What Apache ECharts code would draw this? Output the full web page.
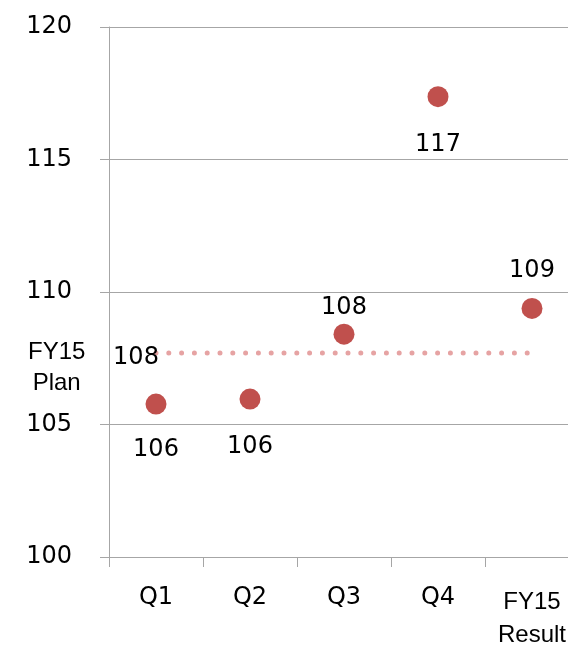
<!DOCTYPE html>
<html>
<head>
<meta charset="utf-8">
<script src="https://cdn.jsdelivr.net/npm/echarts@6/dist/echarts.min.js"></script>
<style>html,body{margin:0;padding:0;background:#fff}#c{width:568px;height:646px}</style>
</head>
<body>
<div id="c"></div>
<script>
const categories = ['Q1', 'Q2', 'Q3', 'Q4', 'FY15\nResult'];
const actualValues = [105.77, 105.96, 108.41, 117.37, 109.38];
const planValue = 107.7;
const planLabel = 'FY15\nPlan';
const yTicks = { min: 100, max: 120, interval: 5 };
// label vertical offsets (px) relative to each point
const labelOffsets = [46, 48, -26, 48, -38];

const chart = echarts.init(document.getElementById('c'), null, { renderer: 'canvas' });
const gray = '#a6a6a6';
const numFont = '"DejaVu Sans", Verdana, sans-serif';
const sansFont = '"Liberation Sans", Arial, sans-serif';

const option = {
  animation: false,
  backgroundColor: '#fff',
  grid: { left: 109, top: 27, width: 470, height: 530, containLabel: false, outerBoundsMode: 'none' },
  xAxis: {
    type: 'category',
    data: categories,
    boundaryGap: true,
    axisLine: { lineStyle: { color: gray, width: 1 } },
    axisTick: { show: true, length: 10, lineStyle: { color: gray } },
    axisLabel: {
      margin: 29,
      interval: 0,
      hideOverlap: false,
      formatter: function (v) {
        if (v.indexOf('\n') >= 0) {
          return v.split('\n').map(s => '{r|' + s + '}').join('\n');
        }
        return '{q|' + v + '}';
      },
      rich: {
        q: { fontFamily: numFont, fontSize: 24, lineHeight: 24, color: '#000' },
        r: { fontFamily: sansFont, fontSize: 24, lineHeight: 33, color: '#000' }
      }
    }
  },
  yAxis: {
    type: 'value',
    min: yTicks.min, max: yTicks.max, interval: yTicks.interval,
    axisLine: { show: true, lineStyle: { color: gray, width: 1 } },
    axisTick: { show: true, length: 9, lineStyle: { color: gray } },
    splitLine: { show: true, lineStyle: { color: gray, width: 1 } },
    axisLabel: { margin: 37, fontFamily: numFont, fontSize: 24, color: '#000' }
  },
  series: [
    {
      type: 'line',
      data: categories.map((c, i) => i === 0
        ? { value: planValue, label: { show: true } }
        : { value: planValue }),
      symbol: 'circle',
      symbolSize: 0.1,
      showSymbol: true,
      z: 1,
      lineStyle: { color: '#e6a3a3', width: 5, type: [0, 12.8], cap: 'round' },
      itemStyle: { color: '#e6a3a3', opacity: 0 },
      label: {
        show: false,
        position: 'inside',
        offset: [-20, 5],
        formatter: p => Math.round(p.value).toString(),
        fontFamily: numFont, fontSize: 24, color: '#000', opacity: 1
      },
      emphasis: { disabled: true },
      silent: true
    },
    {
      type: 'scatter',
      data: actualValues.map((v, i) => ({
        value: v,
        label: { offset: [0, labelOffsets[i]] }
      })),
      symbol: 'circle',
      symbolSize: 21,
      z: 3,
      itemStyle: { color: '#c0504d', opacity: 1 },
      label: {
        show: true,
        position: 'inside',
        formatter: p => Math.round(p.value).toString(),
        fontFamily: numFont, fontSize: 24, color: '#000'
      },
      emphasis: { disabled: true },
      silent: true
    }
  ]
};
chart.setOption(option);

const py = chart.convertToPixel({ yAxisIndex: 0 }, planValue);
chart.setOption({
  graphic: [{
    type: 'text',
    left: 58 - 30,
    top: py - 16,
    style: {
      text: planLabel,
      x: 30,
      textAlign: 'center',
      fontFamily: sansFont,
      fontSize: 24,
      lineHeight: 31,
      fill: '#000'
    }
  }]
});
</script>
</body>
</html>
